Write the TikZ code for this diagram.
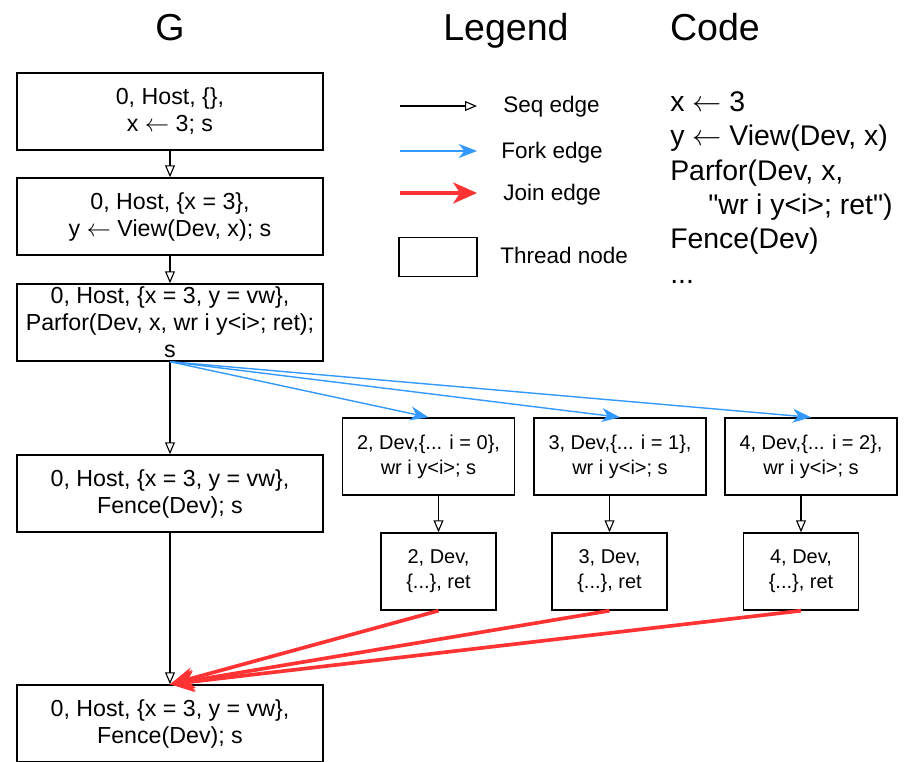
\documentclass[tikz,border=0pt]{standalone}
\usepackage{fontspec}
\setmainfont{Liberation Sans}
\usetikzlibrary{arrows.meta}
\definecolor{fork blue}{RGB}{51,153,255}
\definecolor{join red}{RGB}{255,51,51}
\tikzstyle{thread} = [draw, line width=1pt, align=center, inner sep=0pt]
\tikzset{host/.style={thread, minimum width=7.65cm, minimum height=1.925cm,
        font=\fontsize{16.5}{19.2}\selectfont},
    dev/.style={thread, minimum width=4.3cm, minimum height=1.925cm,
        font=\fontsize{14.2}{17.8}\selectfont},
    ret/.style={dev, minimum width=2.875cm},
    seqedge/.style={-{Triangle[open, length=8.5pt, width=7pt]}, line width=0.8pt},
    forkedge/.style={-{Stealth[length=13pt, width=10pt, inset=4pt]}, draw=fork blue, line width=1pt},
    joinedge/.style={-{Stealth[length=17pt, width=15pt, inset=5pt]}, draw=join red, line width=2.6pt},
    title/.style={anchor=base, inner sep=0pt, font=\fontsize{26.7}{30}\selectfont},
    legendtext/.style={anchor=base west, inner sep=0pt, font=\fontsize{16}{19}\selectfont}}
\newcommand{\getsarrow}{\ensuremath{\leftarrow}}

\begin{document}
\begin{tikzpicture}[x=0.025cm, y=-0.025cm]
    \useasboundingbox (0,0) rectangle (907,762);
    % Titles
    \node[title] (gtitle) at (170,41) {G};
    \node[title] (legtitle) at (506,41) {Legend};
    \node[title] (codetitle) at (715,41) {Code};
    %
    % Host thread nodes
    \node[host] (h0) at (170,111.5) {0, Host, \{\},\\x \getsarrow{} 3; s};
    \node[host] (h1) at (170,216.5) {0, Host, \{x = 3\},\\y \getsarrow{} View(Dev, x); s};
    \node[host] (h2) at (170,322.5) {0, Host, \{x = 3, y = vw\},\\Parfor(Dev, x, wr i y<i>; ret);\\s};
    \node[host] (h3) at (170,493.5) {0, Host, \{x = 3, y = vw\},\\Fence(Dev); s};
    \node[host] (h4) at (170,723.5) {0, Host, \{x = 3, y = vw\},\\Fence(Dev); s};
    %
    % Device thread nodes
    \node[dev] (d1) at (428.5,456.5) {2, Dev,\{... i = 0\},\\wr i y<i>; s};
    \node[dev] (d2) at (620,456.5) {3, Dev,\{... i = 1\},\\wr i y<i>; s};
    \node[dev] (d3) at (811,456.5) {4, Dev,\{... i = 2\},\\wr i y<i>; s};
    \node[ret] (r1) at (438.5,571.5) {2, Dev,\\\{...\}, ret};
    \node[ret] (r2) at (609.5,571.5) {3, Dev,\\\{...\}, ret};
    \node[ret] (r3) at (801,571.5) {4, Dev,\\\{...\}, ret};
    %
    % Edges
    \draw[seqedge] (h0) -- (h1);
    \draw[seqedge] (h1) -- (h2);
    \draw[seqedge] (h2) -- (h3);
    \draw[seqedge] (h3) -- (h4);
    \draw[seqedge] (d1.south -| r1) -- (r1.north);
    \draw[seqedge] (d2.south -| r2) -- (r2.north);
    \draw[seqedge] (d3.south -| r3) -- (r3.north);
    \draw[forkedge] (h2.south) -- (d1.north);
    \draw[forkedge] (h2.south) -- (d2.north);
    \draw[forkedge] (h2.south) -- (d3.north);
    \draw[joinedge] (r1.south) -- (h4.north);
    \draw[joinedge] (r2.south) -- (h4.north);
    \draw[joinedge] (r3.south) -- (h4.north);
    %
    % Legend
    \coordinate (seq a) at (400,106);
    \coordinate (seq b) at (477,106);
    \coordinate (fork a) at (400,151);
    \coordinate (fork b) at (477,151);
    \coordinate (join a) at (400,193);
    \coordinate (join b) at (477,193);
    \draw[seqedge] (seq a) -- (seq b);
    \draw[forkedge] (fork a) -- (fork b);
    \draw[joinedge] (join a) -- (join b);
    \node[thread, minimum width=1.95cm, minimum height=0.975cm] (legbox) at (438,257) {};
    \node[legendtext] (seqlabel) at (503,113) {Seq edge};
    \node[legendtext] (forklabel) at (501,158) {Fork edge};
    \node[legendtext] (joinlabel) at (503,200) {Join edge};
    \node[legendtext] (threadlabel) at (500,263) {Thread node};
    %
    % Code
    \node[anchor=north west, inner sep=0pt, align=left, font=\fontsize{20.2}{24.5}\selectfont]
        (code) at (670,91) {x \getsarrow{} 3\\y \getsarrow{} View(Dev, x)\\Parfor(Dev, x,\\\hspace*{27pt}\textquotedbl wr i y<i>; ret\textquotedbl)\\Fence(Dev)\\...};
\end{tikzpicture}
\end{document}
